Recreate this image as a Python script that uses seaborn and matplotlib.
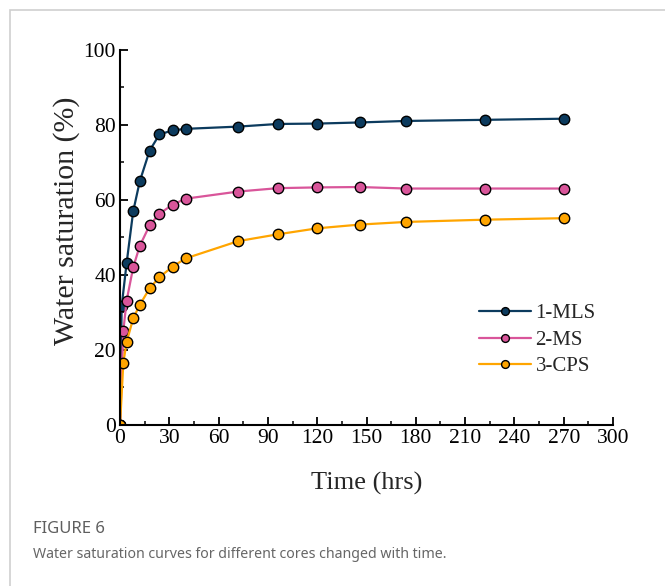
import matplotlib
matplotlib.use("Agg")
import matplotlib.pyplot as plt
import seaborn as sns
import pandas as pd
from matplotlib.ticker import MultipleLocator
from matplotlib.patches import Rectangle

series_names = ["1-MLS", "2-MS", "3-CPS"]
t_mls = [0, 1, 4, 8, 12, 18, 24, 32, 40, 72, 96, 120, 146, 174, 222, 270]
t_ms = [0, 2, 4, 8, 12, 18, 24, 32, 40, 72, 96, 120, 146, 174, 222, 270]
t_cps = [0, 2, 4, 8, 12, 18, 24, 32, 40, 72, 96, 120, 146, 174, 222, 270]
y_mls = [0, 31.7, 43.1, 56.9, 64.9, 73.1, 77.4, 78.5, 78.9, 79.5, 80.2, 80.3, 80.6, 81.0, 81.3, 81.6]
y_ms = [0, 25.1, 33.1, 42.0, 47.7, 53.2, 56.3, 58.7, 60.3, 62.2, 63.1, 63.3, 63.4, 63.0, 63.0, 63.0]
y_cps = [0, 16.6, 22.1, 28.4, 32.0, 36.4, 39.4, 42.2, 44.4, 49.0, 50.8, 52.4, 53.4, 54.1, 54.7, 55.1]
colors = ["#0c3b5e", "#d9559a", "#ffa500"]

df = pd.concat([
    pd.DataFrame({"Time": t_mls, "Sat": y_mls, "Core": series_names[0]}),
    pd.DataFrame({"Time": t_ms, "Sat": y_ms, "Core": series_names[1]}),
    pd.DataFrame({"Time": t_cps, "Sat": y_cps, "Core": series_names[2]}),
], ignore_index=True)

sns.set_style("ticks")
plt.rcParams["font.family"] = ["Liberation Serif", "DejaVu Serif"]

fig = plt.figure(figsize=(6.65, 5.86), dpi=100)
ax = fig.add_axes([0.1805, 0.2747, 0.7413, 0.6406])

sns.lineplot(data=df, x="Time", y="Sat", hue="Core", palette=colors,
             estimator=None, marker="o", markersize=7.5, markeredgecolor="black",
             markeredgewidth=1.0, linewidth=1.6, dashes=False, ax=ax)

ax.set_xlim(0, 300)
ax.set_ylim(0, 100)
ax.xaxis.set_major_locator(MultipleLocator(30))
ax.xaxis.set_minor_locator(MultipleLocator(15))
ax.yaxis.set_major_locator(MultipleLocator(20))
ax.yaxis.set_minor_locator(MultipleLocator(10))
ax.tick_params(axis="both", which="major", direction="in", length=6, width=1.3,
               labelsize=15.5, color="black", labelcolor="black", pad=3)
ax.tick_params(axis="both", which="minor", direction="in", length=3, width=1.3)
for s in ["left", "bottom"]:
    ax.spines[s].set_linewidth(1.5)
    ax.spines[s].set_color("black")
ax.spines["top"].set_visible(False)
ax.spines["right"].set_visible(False)

ax.set_xlabel("Time (hrs)", fontsize=19, labelpad=17)
ax.set_ylabel("Water saturation (%)", fontsize=21.5)
ax.yaxis.set_label_coords(-0.082, 0.544)

leg = ax.legend(loc="upper left", bbox_to_anchor=(0.712, 0.345), frameon=False,
                fontsize=15, handlelength=2.5, handletextpad=0.2, labelspacing=0.33,
                borderaxespad=0, markerscale=0.75)

border = Rectangle((9.5 / 665, -0.1), 1.1, 1 - 10 / 586 + 0.1, transform=fig.transFigure,
                   fill=False, edgecolor="#cfcfcf", linewidth=1.2, clip_on=False)
fig.patches.append(border)

fig.text(33 / 665, 1 - 529 / 586, "FIGURE 6", family=["Noto Sans", "DejaVu Sans"],
         fontsize=12, fontweight="semibold", color="#5f5f5f", va="center", ha="left")
fig.text(33 / 665, 1 - 554 / 586,
         "Water saturation curves for different cores changed with time.",
         family=["Noto Sans", "DejaVu Sans"], fontsize=10.2, color="#666666",
         va="center", ha="left")

fig.savefig("out.png", dpi=100)
